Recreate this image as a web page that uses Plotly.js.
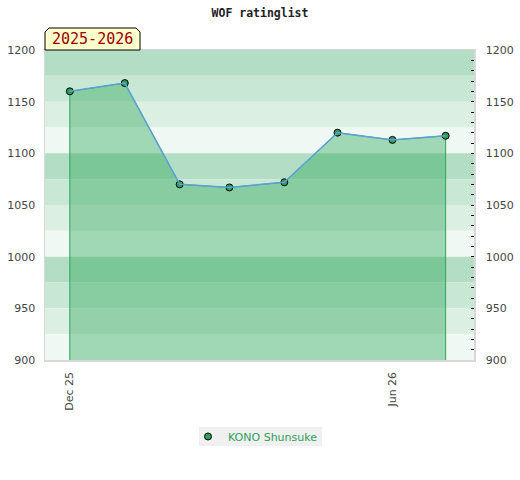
<!DOCTYPE html>
<html>
<head>
<meta charset="utf-8">
<script src="https://cdn.plot.ly/plotly-3.0.1.min.js"></script>
<style>html,body{margin:0;padding:0;background:#fff;}#chart{width:520px;height:480px;}</style>
</head>
<body>
<div id="chart"></div>
<script>
// ---- data ----
const playerName = "KONO Shunsuke";
const months = ["2025-12-01","2026-01-01","2026-02-01","2026-03-01","2026-04-01","2026-05-01","2026-06-01","2026-07-01"];
const ratings = [1160, 1168, 1070, 1067, 1072, 1120, 1113, 1117];
const seasonLabel = "2025-2026";
const chartTitle = "WOF ratinglist";
const yTicks = [900, 950, 1000, 1050, 1100, 1150, 1200];
const bandColors = ["#b3dec5", "#c8e7d4", "#dcefe3", "#f0f8f3"];

// ---- layout constants ----
const W = 520, H = 480;
const M = {l: 45, r: 46, t: 50, b: 120};
const yMin = 900, yMax = 1200, bandStep = 25;
const xRange = ["2025-11-17", "2026-07-17"];
const plotW = W - M.l - M.r, plotH = H - M.t - M.b;
const px = v => (v - M.l) / plotW;
const py = v => (H - M.b - v) / plotH;

const shapes = [];
let idx = 0;
for (let top = yMax; top > yMin; top -= bandStep) {
  shapes.push({type: "rect", xref: "paper", yref: "y", x0: 0, x1: 1, y0: top - bandStep, y1: top,
    fillcolor: bandColors[idx % bandColors.length], line: {width: 0}, layer: "below"});
  idx++;
}
// season label box with cut corners
const bx0 = px(45), bx1 = px(140), by0 = py(50), by1 = py(28), cx = 4 / plotW, cy = 4 / plotH;
shapes.push({type: "path", xref: "paper", yref: "paper",
  path: `M ${bx0} ${by0} L ${bx0} ${by1 - cy} L ${bx0 + cx} ${by1} L ${bx1 - cx} ${by1} L ${bx1} ${by1 - cy} L ${bx1} ${by0} Z`,
  fillcolor: "#ffffcc", line: {color: "#000", width: 1}, layer: "above"});
// legend background
shapes.push({type: "rect", xref: "paper", yref: "paper", x0: px(199), x1: px(322), y0: py(446), y1: py(427),
  fillcolor: "#f0f0f0", line: {width: 0}, layer: "below"});

const fillX = [months[0]].concat(months, [months[months.length - 1]]);
const fillY = [yMin].concat(ratings, [yMin]);

const traces = [
  {x: fillX, y: fillY, type: "scatter", mode: "lines", fill: "toself",
   fillcolor: "rgba(40,165,85,0.40)", line: {color: "#2aa65a", width: 1},
   showlegend: false, hoverinfo: "skip"},
  {x: months, y: ratings, type: "scatter", mode: "lines", yaxis: "y2",
   line: {color: "#5aa2d6", width: 1.5}, showlegend: false, hoverinfo: "skip"},
  {x: months, y: ratings, type: "scatter", mode: "markers", name: playerName,
   marker: {color: "#2e9e5b", size: 7, line: {color: "#000", width: 1}}}
];

const tickFont = {family: "DejaVu Sans, sans-serif", size: 11, color: "#444"};
const layout = {
  width: W, height: H,
  margin: M,
  paper_bgcolor: "#fff", plot_bgcolor: "#fff",
  title: {text: chartTitle, x: 0.5, xanchor: "center", y: 1 - 13 / H, yanchor: "middle",
    font: {family: "DejaVu Sans Mono, monospace", size: 11.5, color: "#222", weight: "bold"}},
  xaxis: {type: "date", range: xRange, tick0: "2025-12-01", dtick: "M6", tickformat: "%b %y",
    tickangle: -90, tickfont: tickFont, showgrid: false, zeroline: false,
    showline: true, linecolor: "#d8d8d8", linewidth: 1.5, ticks: "", mirror: true, ticklabelstandoff: 6},
  yaxis: {range: [yMin, yMax], tickvals: yTicks, tickfont: tickFont, showgrid: false, zeroline: false,
    showline: true, linecolor: "#d8d8d8", linewidth: 1.5, ticks: "", ticklabelstandoff: 6},
  yaxis2: {range: [yMin, yMax], overlaying: "y", side: "right", tickvals: yTicks, tickfont: tickFont,
    showgrid: false, zeroline: false, showline: true, linecolor: "#d8d8d8", linewidth: 1.5,
    ticks: "inside", ticklen: 3, tickcolor: "#000", ticklabelstandoff: 8,
    minor: {dtick: 10, ticks: "inside", ticklen: 3, tickcolor: "#000", showgrid: false}},
  legend: {orientation: "h", x: px(188), xanchor: "left", y: py(436.5), yanchor: "middle",
    bgcolor: "rgba(0,0,0,0)", itemwidth: 30,
    font: {family: "DejaVu Sans, sans-serif", size: 11, color: "#2ea05a"}},
  shapes: shapes,
  annotations: [{xref: "paper", yref: "paper", x: (bx0 + bx1) / 2, y: (by0 + by1) / 2,
    xanchor: "center", yanchor: "middle", showarrow: false, text: seasonLabel,
    font: {family: "DejaVu Sans Mono, monospace", size: 15, color: "#990000"}}]
};

Plotly.newPlot("chart", traces, layout, {displayModeBar: false, staticPlot: true});
</script>
</body>
</html>
